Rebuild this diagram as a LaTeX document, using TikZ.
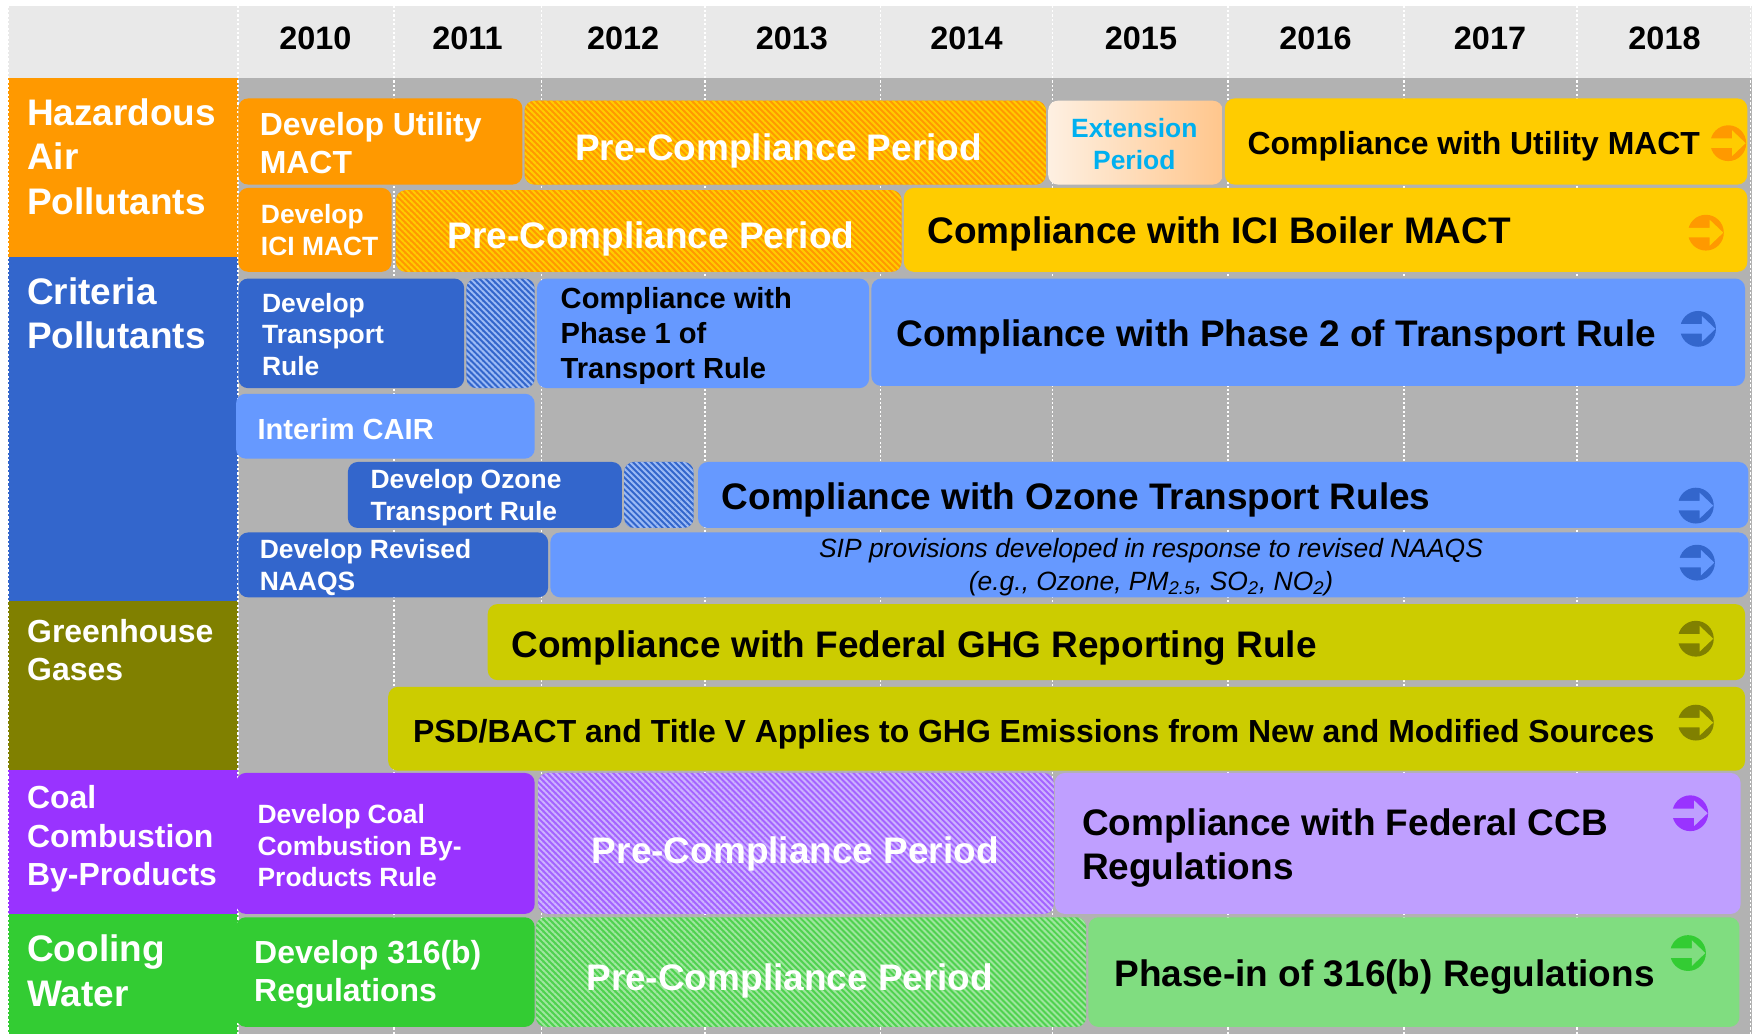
\documentclass[tikz,border=0pt]{standalone}
\usepackage{fontspec}
\setmainfont{Liberation Sans}
\usetikzlibrary{fit,patterns.meta}

% palette
\definecolor{hdrgray}{HTML}{E9E9E9}
\definecolor{gridgray}{HTML}{B2B2B2}
\definecolor{hapOrange}{HTML}{FF9900}
\definecolor{hapYellow}{HTML}{FFCC00}
\definecolor{extLeft}{HTML}{FEF0E2}
\definecolor{extRight}{HTML}{FFC68C}
\definecolor{extText}{HTML}{00B0F0}
\definecolor{cpDark}{HTML}{3366CC}
\definecolor{cpLight}{HTML}{6699FF}
\definecolor{cpStripe}{HTML}{9DBBF5}
\definecolor{ghgDark}{HTML}{808000}
\definecolor{ghgBar}{HTML}{CCCC00}
\definecolor{ccbDark}{HTML}{9933FF}
\definecolor{ccbLight}{HTML}{BF9FFF}
\definecolor{ccbHatch}{HTML}{A463FF}
\definecolor{ccbStripe}{HTML}{CDB3FF}
\definecolor{cwDark}{HTML}{33CC33}
\definecolor{cwLight}{HTML}{80DD80}
\definecolor{cwHatch}{HTML}{4FD24F}
\definecolor{cwStripe}{HTML}{9FE69F}

% type sizes
\newcommand\fsXL{\fontsize{23.5}{28.2}\selectfont\bfseries}
\newcommand\fsL{\fontsize{20.3}{24.4}\selectfont\bfseries}
\newcommand\fsM{\fontsize{18.5}{22.2}\selectfont\bfseries}
\newcommand\fsS{\fontsize{16.8}{20.2}\selectfont\bfseries}
\newcommand\fsYear{\fontsize{20.6}{24.7}\selectfont\bfseries}
\newcommand\fsNote{\fontsize{16.8}{20.6}\selectfont\itshape}

\tikzset{
  barbox/.style={inner sep=0pt, rounded corners=0.22cm, fill=#1},
  hatchbox/.style 2 args={inner sep=0pt, rounded corners=0.22cm,
    preaction={fill=#1},
    pattern={Lines[angle=-45,distance=2.7pt,line width=1.25pt]},
    pattern color=#2},
  lbl/.style={inner sep=0pt, align=left, anchor=west},
  ctr/.style={inner sep=0pt, align=center, anchor=center},
  vline/.style={white, line width=1pt, dash pattern=on 1.4pt off 1.4pt},
}

% round "continues" marker: coloured disc with an arrow cut out in the bar colour
\newcommand\goarrow[4]{%
  \node[circle, fill=#3, inner sep=0pt, minimum size=0.8cm] (#1) at (#2) {};
  \begin{scope}[shift={(#1.center)}]
    \fill[#4] (-17,-4.2) -- (3.4,-4.2) -- (3.4,-11.5) -- (15.5,0)
      -- (3.4,11.5) -- (3.4,4.2) -- (-17,4.2) -- cycle;
  \end{scope}}

\begin{document}
\begin{tikzpicture}[x=0.025cm, y=-0.025cm]
\useasboundingbox (0,0) rectangle (1568,924);
\fill[white] (0,0) rectangle (1568,924);

% header band and timeline area
\fill[hdrgray] (7,5) rectangle (1566,70);
\fill[gridgray] (213,70) rectangle (1566,924);

% category column
\fill[hapOrange] (7,70) rectangle (213,230);
\fill[cpDark] (7,230) rectangle (213,537);
\fill[ghgDark] (7,537) rectangle (213,688);
\fill[ccbDark] (7,688) rectangle (213,817);
\fill[cwDark] (7,817) rectangle (213,924);

% year dividers
\foreach \x in {7,213,352,484,630,787,941,1098,1255,1410,1565}
  \draw[vline] (\x,5) -- (\x,924);

% years
\foreach \x/\yr in {282/2010,418/2011,557/2012,708/2013,864/2014,1020/2015,1176/2016,1332/2017,1488/2018}
  \node[ctr, font=\fsYear] (y\yr) at (\x,34) {\yr};

% category labels
\node[lbl, white, font=\fsXL] (catHAP) at (24,140) {Hazardous\\Air\\Pollutants};
\node[lbl, white, font=\fsXL] (catCP) at (24,280) {Criteria\\Pollutants};
\node[lbl, white, font=\fsL] (catGHG) at (24,581) {Greenhouse\\Gases};
\node[lbl, white, font=\fsL] (catCCB) at (24,750) {Coal\\Combustion\\By-Products};
\node[lbl, white, font=\fsXL] (catCW) at (24,868) {Cooling\\Water};

% ---- Hazardous air pollutants
\node[barbox=hapOrange, fit={(213,88) (467,165)}] (devUtil) {};
\node[lbl, white, font=\fsL] (devUtilT) at (232,128) {Develop Utility\\MACT};
\node[hatchbox={hapOrange}{hapYellow}, fit={(469,90) (935,165)}] (preHapA) {};
\node[ctr, white, font=\fsXL] (preHapAT) at (696,135) {Pre-Compliance Period};
\node[inner sep=0pt, rounded corners=0.22cm, left color=extLeft, right color=extRight,
  fit={(937,90) (1093,165)}] (ext) {};
\node[ctr, extText, font=\fsS] (extT) at (1014,129) {Extension\\Period};
\node[barbox=hapYellow, fit={(1095,88) (1562,165)}] (compUtil) {};
\node[lbl, black, font=\fsL] (compUtilT) at (1115,131) {Compliance with Utility MACT};
\goarrow{arrUtil}{1545,128}{hapOrange}{hapYellow}

\node[barbox=hapOrange, fit={(213,168) (350,243)}] (devICI) {};
\node[lbl, white, font=\fsS] (devICIT) at (233,206) {Develop\\ICI MACT};
\node[hatchbox={hapOrange}{hapYellow}, fit={(354,170) (806,243)}] (preHapB) {};
\node[ctr, white, font=\fsXL] (preHapBT) at (582,214) {Pre-Compliance Period};
\node[barbox=hapYellow, fit={(808,168) (1562,243)}] (compICI) {};
\node[lbl, black, font=\fsXL] (compICIT) at (829,209) {Compliance with ICI Boiler MACT};
\goarrow{arrICI}{1525,208}{hapOrange}{hapYellow}

% ---- Criteria pollutants
\node[barbox=cpDark, fit={(213,249) (415,347)}] (devTR) {};
\node[lbl, white, font=\fsS] (devTRT) at (234,299) {Develop\\Transport\\Rule};
\node[hatchbox={cpDark}{cpStripe}, fit={(417,249) (478,347)}] (gapTR) {};
\node[barbox=cpLight, fit={(480,249) (777,347)}] (compP1) {};
\node[lbl, black, font=\fsM] (compP1T) at (501,300) {Compliance with\\Phase 1 of\\Transport Rule};
\node[barbox=cpLight, fit={(779,249) (1560,345)}] (compP2) {};
\node[lbl, black, font=\fsXL] (compP2T) at (801,301) {Compliance with Phase 2 of Transport Rule};
\goarrow{arrP2}{1518,294}{cpDark}{cpLight}

\node[barbox=cpLight, fit={(211,352) (478,410)}] (cair) {};
\node[lbl, white, font=\fsM] (cairT) at (230,384) {Interim CAIR};

\node[barbox=cpDark, fit={(311,413) (556,472)}] (devOz) {};
\node[lbl, white, font=\fsS] (devOzT) at (331,445) {Develop Ozone\\Transport Rule};
\node[hatchbox={cpDark}{cpStripe}, fit={(558,413) (620,472)}] (gapOz) {};
\node[barbox=cpLight, fit={(624,413) (1563,472)}] (compOz) {};
\node[lbl, black, font=\fsXL] (compOzT) at (645,447) {Compliance with Ozone Transport Rules};
\goarrow{arrOz}{1516,452}{cpDark}{cpLight}

\node[barbox=cpDark, fit={(213,476) (490,534)}] (devNAAQS) {};
\node[lbl, white, font=\fsS] (devNAAQST) at (232,507) {Develop Revised\\NAAQS};
\node[barbox=cpLight, fit={(492,476) (1563,534)}] (sip) {};
\node[ctr, black, font=\fsNote] (sipT) at (1029,507)
  {SIP provisions developed in response to revised NAAQS\\
   (e.g., Ozone, PM\textsubscript{2.5}, SO\textsubscript{2}, NO\textsubscript{2})};
\goarrow{arrSIP}{1517,503}{cpDark}{cpLight}

% ---- Greenhouse gases
\node[barbox=ghgBar, fit={(436,540) (1560,608)}] (ghgRep) {};
\node[lbl, black, font=\fsXL] (ghgRepT) at (457,579) {Compliance with Federal GHG Reporting Rule};
\goarrow{arrRep}{1516,571}{ghgDark}{ghgBar}
\node[barbox=ghgBar, fit={(347,614) (1560,689)}] (psd) {};
\node[lbl, black, font=\fsL] (psdT) at (369,656) {PSD/BACT and Title V Applies to GHG Emissions from New and Modified Sources};
\goarrow{arrPSD}{1516,646}{ghgDark}{ghgBar}

% ---- Coal combustion by-products
\node[barbox=ccbDark, fit={(211,691) (478,817)}] (devCCB) {};
\node[lbl, white, font=\fsS] (devCCBT) at (230,756) {Develop Coal\\Combustion By-\\Products Rule};
\node[hatchbox={ccbHatch}{ccbStripe}, fit={(481,691) (942,817)}] (preCCB) {};
\node[ctr, white, font=\fsXL] (preCCBT) at (711,763) {Pre-Compliance Period};
\node[barbox=ccbLight, fit={(943,691) (1556,817)}] (compCCB) {};
\node[lbl, black, font=\fsXL] (compCCBT) at (967,758) {Compliance with Federal CCB\\Regulations};
\goarrow{arrCCB}{1511,727}{ccbDark}{ccbLight}

% ---- Cooling water
\node[barbox=cwDark, fit={(211,820) (478,918)}] (devCW) {};
\node[lbl, white, font=\fsL] (devCWT) at (227,871) {Develop 316(b)\\Regulations};
\node[hatchbox={cwHatch}{cwStripe}, fit={(479,820) (971,918)}] (preCW) {};
\node[ctr, white, font=\fsXL] (preCWT) at (706,877) {Pre-Compliance Period};
\node[barbox=cwLight, fit={(973,820) (1555,918)}] (compCW) {};
\node[lbl, black, font=\fsXL] (compCWT) at (996,873) {Phase-in of 316(b) Regulations};
\goarrow{arrCW}{1509,852}{cwDark}{cwLight}
\end{tikzpicture}
\end{document}
